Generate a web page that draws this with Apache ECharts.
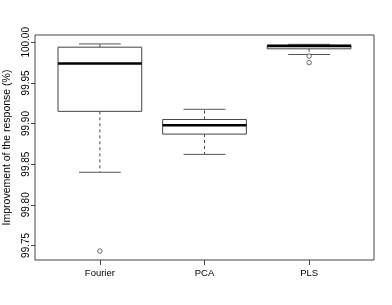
<!DOCTYPE html>
<html><head><meta charset="utf-8">
<script src="https://cdn.jsdelivr.net/npm/echarts@6/dist/echarts.min.js"></script>
<style>html,body{margin:0;padding:0;background:#fff}#c{width:392px;height:305px}</style>
</head><body><div id="c"></div>
<script>
var categories = ['Fourier', 'PCA', 'PLS'];
// [lower whisker, Q1, median, Q3, upper whisker]
var fourierBox = [99.840, 99.915, 99.974, 99.994, 99.998];
var pcaBox = [99.862, 99.887, 99.898, 99.905, 99.9175];
var plsBox = [99.985, 99.992, 99.9954, 99.9967, 99.9975];
var outlierCat = [1, 3, 3];
var outlierVal = [99.743, 99.983, 99.975];
var yTicks = [99.75, 99.80, 99.85, 99.90, 99.95, 100.00];

var boxes = [fourierBox, pcaBox, plsBox];
var boxData = boxes.map(function (b, i) { return [i + 1].concat(b); });
var outData = outlierCat.map(function (c, i) { return [c, outlierVal[i]]; });
var font = 'Liberation Sans, Arial, sans-serif';
var BOX_W = 0.8, CAP_W = 0.4;

function renderBox(params, api) {
  var x = api.value(0);
  var lo = api.coord([x, api.value(1)]), q1 = api.coord([x, api.value(2)]),
      md = api.coord([x, api.value(3)]), q3 = api.coord([x, api.value(4)]),
      hi = api.coord([x, api.value(5)]);
  var l = api.coord([x - BOX_W / 2, 0])[0], r = api.coord([x + BOX_W / 2, 0])[0];
  var cl = api.coord([x - CAP_W / 2, 0])[0], cr = api.coord([x + CAP_W / 2, 0])[0];
  var cx = lo[0];
  var dash = { stroke: '#444', lineWidth: 1, lineDash: [3, 3] };
  var solid = { stroke: '#555', lineWidth: 1 };
  return { type: 'group', children: [
    { type: 'line', shape: { x1: cx, y1: q3[1], x2: cx, y2: hi[1] }, style: dash },
    { type: 'line', shape: { x1: cx, y1: q1[1], x2: cx, y2: lo[1] }, style: dash },
    { type: 'line', shape: { x1: cl, y1: hi[1], x2: cr, y2: hi[1] }, style: solid },
    { type: 'line', shape: { x1: cl, y1: lo[1], x2: cr, y2: lo[1] }, style: solid },
    { type: 'rect', shape: { x: l, y: q3[1], width: r - l, height: q1[1] - q3[1] }, style: { fill: '#fff', stroke: '#444', lineWidth: 1 } },
    { type: 'line', shape: { x1: l, y1: md[1], x2: r, y2: md[1] }, style: { stroke: '#000', lineWidth: 2.5 } }
  ]};
}

var chart = echarts.init(document.getElementById('c'));
chart.setOption({
  animation: false,
  grid: { left: 35, right: 18, top: 35, bottom: 45, containLabel: false, outerBoundsMode: 'none',
    show: true, borderColor: '#444', borderWidth: 1, backgroundColor: 'transparent' },
  xAxis: {
    type: 'value', min: 0.38, max: 3.62,
    splitLine: { show: false },
    axisLine: { show: false },
    axisTick: { show: true, length: 5, lineStyle: { color: '#444' }, customValues: [1, 2, 3] },
    axisLabel: { customValues: [1, 2, 3], formatter: function (v) { return categories[Math.round(v) - 1]; },
      fontFamily: font, fontSize: 9.5, color: '#000', margin: 8 }
  },
  yAxis: {
    type: 'value', min: 99.732, max: 100.009,
    name: 'Improvement of the response (%)', nameLocation: 'middle', nameGap: 19,
    nameTextStyle: { fontFamily: font, fontSize: 10.5, color: '#000' },
    splitLine: { show: false },
    axisLine: { show: false },
    axisTick: { show: true, length: 4, lineStyle: { color: '#444' }, customValues: yTicks },
    axisLabel: { customValues: yTicks, rotate: 90, formatter: function (v) { return v.toFixed(2); },
      fontFamily: font, fontSize: 10, color: '#000', margin: 4 }
  },
  series: [
    { type: 'custom', renderItem: renderBox, data: boxData, encode: { x: 0, y: [1, 2, 3, 4, 5] }, clip: false },
    { type: 'scatter', data: outData, symbol: 'circle', symbolSize: 4.5,
      itemStyle: { color: '#fff', borderColor: '#444', borderWidth: 1 } }
  ]
});
</script></body></html>
